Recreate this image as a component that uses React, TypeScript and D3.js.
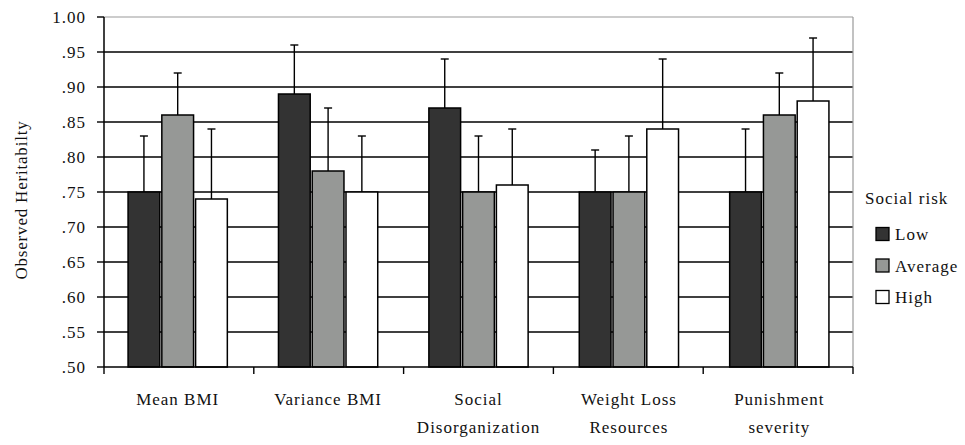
import React from 'react';
import * as d3 from 'd3';

const categories = [['Mean BMI'], ['Variance BMI'], ['Social', 'Disorganization'], ['Weight Loss', 'Resources'], ['Punishment', 'severity']];
const series = ['Low', 'Average', 'High'];
const lowValues = [0.75, 0.89, 0.87, 0.75, 0.75];
const averageValues = [0.86, 0.78, 0.75, 0.75, 0.86];
const highValues = [0.74, 0.75, 0.76, 0.84, 0.88];
const lowErrTop = [0.83, 0.96, 0.94, 0.81, 0.84];
const averageErrTop = [0.92, 0.87, 0.83, 0.83, 0.92];
const highErrTop = [0.84, 0.83, 0.84, 0.94, 0.97];
const yTicks = [0.5, 0.55, 0.6, 0.65, 0.7, 0.75, 0.8, 0.85, 0.9, 0.95, 1.0];
const colors = ['#333333', '#969896', '#ffffff'];

const W = 965, H = 445;
const plot = { left: 104, right: 853, top: 17, bottom: 367 };
const font = 'Liberation Serif, DejaVu Serif, Times, serif';

const App = () => {
  const values = [lowValues, averageValues, highValues];
  const errs = [lowErrTop, averageErrTop, highErrTop];
  const catKeys = categories.map((c) => c.join(' '));

  const y = d3.scaleLinear().domain([0.5, 1.0]).range([plot.bottom, plot.top]);
  const x0 = d3.scaleBand().domain(catKeys).range([plot.left, plot.right]).paddingInner(0.34).paddingOuter(0.16);
  const x1 = d3.scaleBand().domain(series).range([0, x0.bandwidth()]).paddingInner(0.06);
  const step = (plot.right - plot.left) / catKeys.length;
  const boundaries = d3.range(catKeys.length + 1).map((i) => plot.left + i * step);

  const textProps = { fontFamily: font, fontSize: 17, letterSpacing: 1, fill: '#111' };

  return (
    <svg width={W} height={H} fontFamily={font} style={{ position: 'absolute', left: 0, top: 0, background: '#fff' }}>
      {/* grid lines */}
      {yTicks.slice(1, -1).map((t) => (
        <line key={t} x1={plot.left} x2={plot.right} y1={y(t)} y2={y(t)} stroke="#000" strokeWidth={1.4} />
      ))}
      {/* top and right border */}
      <line x1={plot.left} x2={plot.right} y1={y(1)} y2={y(1)} stroke="#999" strokeWidth={1.2} />
      <line x1={plot.right} x2={plot.right} y1={plot.top} y2={plot.bottom} stroke="#999" strokeWidth={1.2} />

      {/* bars */}
      {catKeys.map((c, ci) => (
        <g key={c} transform={`translate(${x0(c)},0)`}>
          {series.map((s, si) => (
            <rect key={s} x={x1(s)} y={y(values[si][ci])} width={x1.bandwidth()}
              height={plot.bottom - y(values[si][ci])} fill={colors[si]} stroke="#000" strokeWidth={1.5} />
          ))}
          {series.map((s, si) => {
            const cx = (x1(s) as number) + x1.bandwidth() / 2;
            return (
              <g key={s + 'err'} stroke="#000" strokeWidth={1.4}>
                <line x1={cx} x2={cx} y1={y(values[si][ci])} y2={y(errs[si][ci])} />
                <line x1={cx - 4} x2={cx + 4} y1={y(errs[si][ci])} y2={y(errs[si][ci])} />
              </g>
            );
          })}
        </g>
      ))}

      {/* axes */}
      <line x1={plot.left} x2={plot.left} y1={plot.top} y2={plot.bottom} stroke="#000" strokeWidth={1.5} />
      <line x1={plot.left} x2={plot.right} y1={plot.bottom} y2={plot.bottom} stroke="#000" strokeWidth={1.5} />
      {yTicks.map((t) => (
        <g key={'yt' + t}>
          <line x1={plot.left - 7} x2={plot.left} y1={y(t)} y2={y(t)} stroke="#000" strokeWidth={1.4} />
          <text x={86} y={y(t) + 6} textAnchor="end" {...textProps}>
            {t === 1 ? '1.00' : d3.format('.2f')(t).replace(/^0/, '')}
          </text>
        </g>
      ))}
      {boundaries.map((b, i) => (
        <line key={'xt' + i} x1={b} x2={b} y1={plot.bottom} y2={plot.bottom + 7} stroke="#000" strokeWidth={1.4} />
      ))}
      {categories.map((lines, ci) => (
        <text key={'cl' + ci} textAnchor="middle" {...textProps}>
          {lines.map((l, li) => (
            <tspan key={li} x={(x0(catKeys[ci]) as number) + x0.bandwidth() / 2} y={405 + li * 28}>{l}</tspan>
          ))}
        </text>
      ))}

      {/* y title */}
      <text transform="translate(27,200) rotate(-90)" textAnchor="middle" {...textProps} letterSpacing={0.8}>
        Observed Heritabilty
      </text>

      {/* legend */}
      <text x={865} y={204} {...textProps}>Social risk</text>
      {series.map((s, si) => (
        <g key={'lg' + s} transform={`translate(876,${234 + si * 31.5})`}>
          <rect x={0} y={-6.5} width={13} height={13} fill={colors[si]} stroke="#000" strokeWidth={1.3} />
          <text x={19} y={6} {...textProps}>{s}</text>
        </g>
      ))}
    </svg>
  );
};

export default App;
